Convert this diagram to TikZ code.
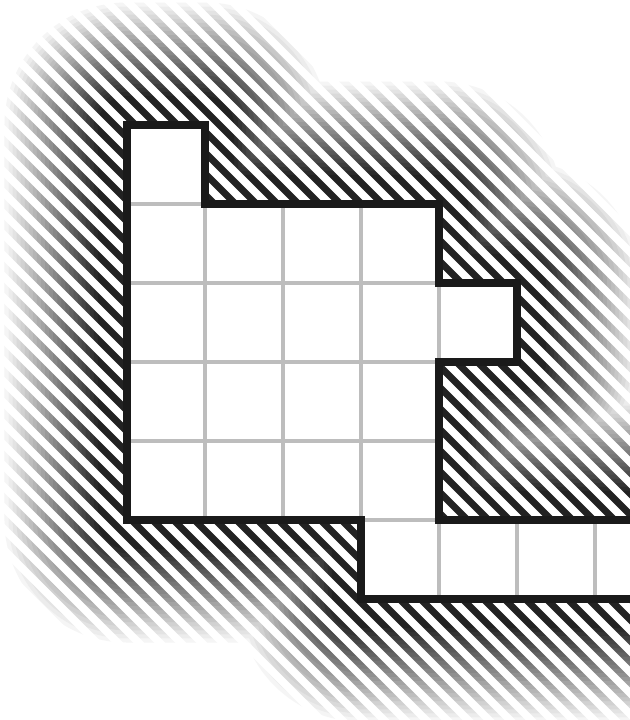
\documentclass[tikz,border=0pt]{standalone}
\usetikzlibrary{fadings}
\definecolor{inkBlack}{HTML}{1A1A1A}
\definecolor{hatchBlack}{HTML}{222222}
\definecolor{gridGray}{HTML}{BDBDBD}
\tikzset{
    hatchline/.style={draw=hatchBlack,line width=0.14cm},
    cellgrid/.style={draw=gridGray,line width=2pt},
    outline/.style={draw=inkBlack,line width=4.5pt,line join=miter},
    gridframe/.style={shift={(-3.75,-4.78)},x=1.56cm,y=1.58cm}
}
% region of the cells, in grid units
\newcommand{\regionpath}{(0,1) -- (0,6) -- (1,6) -- (1,5) -- (4,5) -- (4,4) -- (5,4)
    -- (5,3) -- (4,3) -- (4,1) -- (8,1) -- (8,0) -- (3,0) -- (3,1) -- cycle}

\begin{tikzfadingfrompicture}[name=hatchfade]
    \useasboundingbox (-6.6,-7.5) rectangle (6.6,7.5);
    \clip (-6.6,-7.5) rectangle (6.6,7.5);
    \fill[transparent!0] (-6.6,-7.5) rectangle (6.6,7.5);
    \begin{scope}[gridframe]
        \foreach \k in {24,...,1} {
            \pgfmathsetmacro\ringw{2*(0.5+1.95*\k/24)}
            \pgfmathsetmacro\ringq{100-100*(\k-1)/24}
            \draw[transparent!\ringq,line width=\ringw cm,line join=round] \regionpath;
        }
        \draw[transparent!100,fill=transparent!100,line width=1cm,line join=round] \regionpath;
    \end{scope}
\end{tikzfadingfrompicture}

\begin{document}
\begin{tikzpicture}
    \useasboundingbox (-6.29,-7.2) rectangle (6.29,7.2);
    \clip (-6.5,-7.4) rectangle (6.5,7.4);

    % hatching, faded out away from the cells
    \foreach \c in {-14,-13.58,...,14} {
        \draw[hatchline] (-7.5,\c+7.5) -- (7.5,\c-7.5);
    }
    \fill[white,path fading=hatchfade,fit fading=false] (-6.6,-7.5) rectangle (6.6,7.5);

    \begin{scope}[gridframe]
        \fill[white] \regionpath;
        \begin{scope}
            \clip \regionpath;
            \foreach \i in {1,...,7} \draw[cellgrid] (\i,0) -- (\i,6);
            \foreach \j in {1,...,5} \draw[cellgrid] (0,\j) -- (8,\j);
        \end{scope}
        \draw[outline] \regionpath;
    \end{scope}
\end{tikzpicture}
\end{document}
